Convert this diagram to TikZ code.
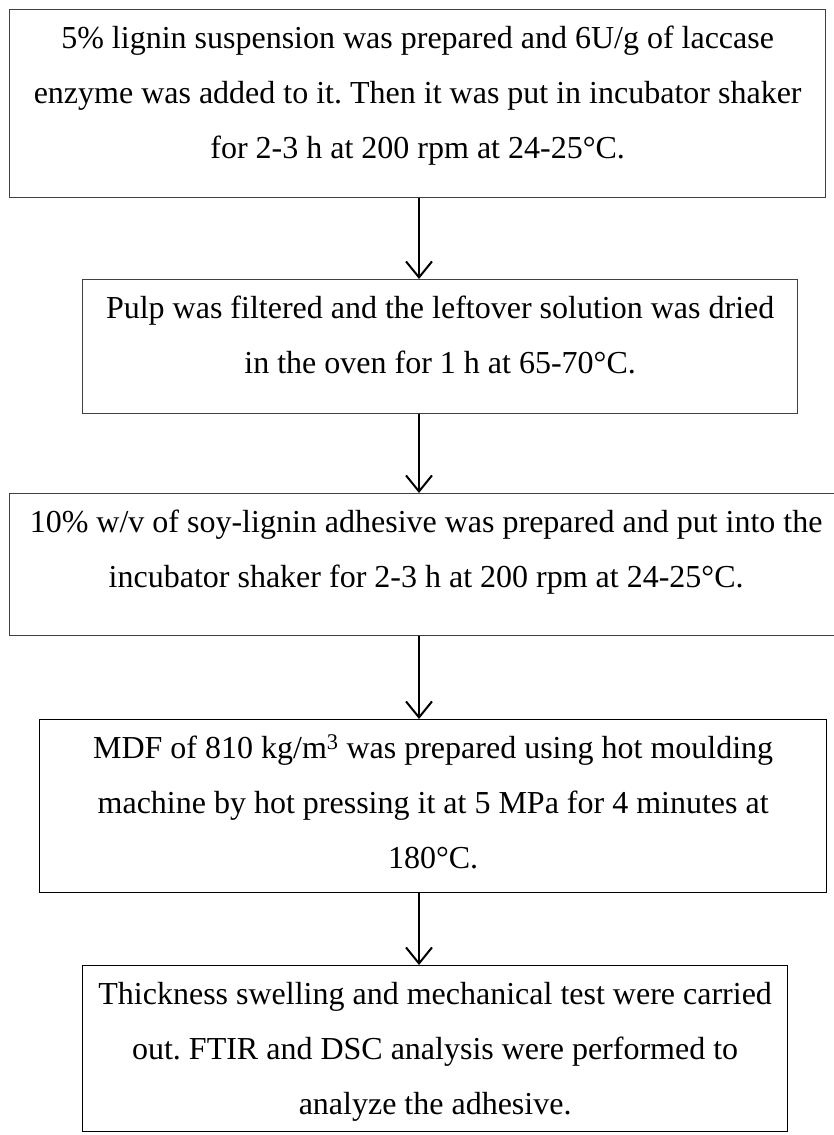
\documentclass[tikz,border=0pt]{standalone}
\usepackage{fontspec}
\setmainfont{Liberation Serif}
\usepackage{tikz}
\usetikzlibrary{arrows.meta, positioning, calc}
\frenchspacing

\tikzset{
  stepbox/.style={draw=black!75, line width=1.3pt, inner sep=0pt, anchor=north west,
                  font=\fontsize{32}{55}\selectfont},
  flowarrow/.style={line width=2pt, -{Straight Barb[length=16pt,width=26pt]}}
}
% box text: width, height, lines
\newcommand{\boxtext}[3]{\parbox[c][#2pt][t]{#1pt}{\centering\strut #3}}

\begin{document}
\begin{tikzpicture}[x=1pt, y=-1pt]
\useasboundingbox (0,0) rectangle (833,1135);
\coordinate (axis) at (419,0);

% Step 1
\node[stepbox] (s1) at (9,9) {\boxtext{816}{188}{5\% lignin suspension was prepared and 6U/g of laccase\\
  \strut enzyme was added to it. Then it was put in incubator shaker\\
  \strut for 2-3 h at 200 rpm at 24-25°C.}};

% Step 2
\node[stepbox] (s2) at (82,279) {\boxtext{715}{134}{Pulp was filtered and the leftover solution was dried\\
  \strut in the oven for 1 h at 65-70°C.}};

% Step 3
\node[stepbox] (s3) at (9,493) {\boxtext{833}{142}{10\% w/v of soy-lignin adhesive was prepared and put into the\\
  \strut incubator shaker for 2-3 h at 200 rpm at 24-25°C.}};

% Step 4
\node[stepbox, draw=black] (s4) at (39,719) {\boxtext{787}{173}{MDF of 810 kg/m\textsuperscript{3} was prepared using hot moulding\\
  \strut machine by hot pressing it at 5 MPa for 4 minutes at\\
  \strut 180°C.}};

% Step 5
\node[stepbox, draw=black] (s5) at (82,965) {\boxtext{705}{166}{Thickness swelling and mechanical test were carried\\
  \strut out. FTIR and DSC analysis were performed to\\
  \strut analyze the adhesive.}};

% arrows
\draw[flowarrow] (s1.south -| axis) -- (s2.north -| axis);
\draw[flowarrow] (s2.south -| axis) -- (s3.north -| axis);
\draw[flowarrow] (s3.south -| axis) -- (s4.north -| axis);
\draw[flowarrow] (s4.south -| axis) -- (s5.north -| axis);
\end{tikzpicture}
\end{document}
